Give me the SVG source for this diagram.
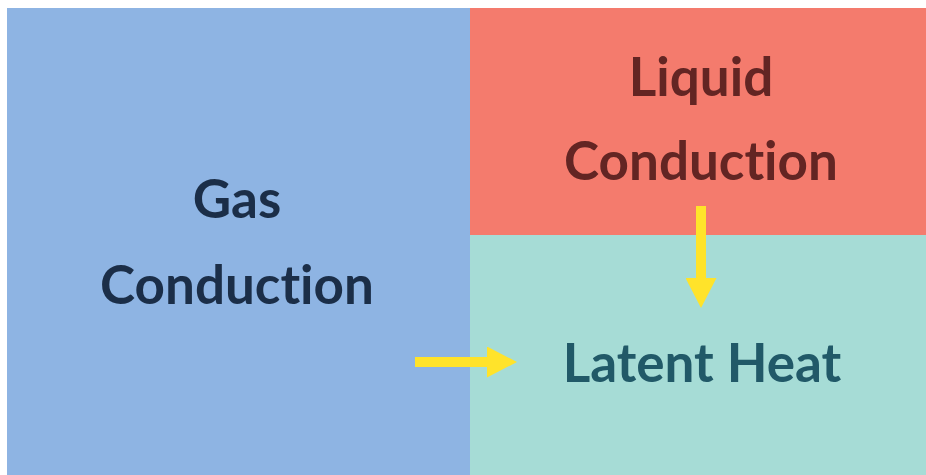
<svg xmlns="http://www.w3.org/2000/svg" width="926" height="475" viewBox="0 0 926 475">
<style>
.lbl{font-family:"Lato","Open Sans","Liberation Sans",sans-serif;font-weight:bold;font-size:53px;text-anchor:middle;font-variant-ligatures:none;font-feature-settings:"liga" 0,"clig" 0,"dlig" 0}
.arrow{stroke:#FFE32A;stroke-width:10;fill:none}
</style>
<defs>
<marker id="head" markerUnits="userSpaceOnUse" markerWidth="30" markerHeight="31" refX="0" refY="15.5" orient="auto">
<path d="M0,0 L30,15.5 L0,31 Z" fill="#FFE32A"/>
</marker>
</defs>
<rect x="0" y="0" width="926" height="475" fill="#ffffff"/>
<g id="gas">
<rect x="7" y="8" width="463" height="467" fill="#8EB4E3"/>
<text class="lbl" x="237" y="218" fill="#1B2E48">Gas</text>
<text class="lbl" x="237" y="304" fill="#1B2E48">Conduction</text>
</g>
<g id="liquid">
<rect x="470" y="8" width="456" height="227" fill="#F47B6D"/>
<text class="lbl" x="701" y="96" fill="#632523">Liquid</text>
<text class="lbl" x="701" y="180" fill="#632523">Conduction</text>
</g>
<g id="latent">
<rect x="470" y="235" width="456" height="240" fill="#A6DCD6"/>
<text class="lbl" x="702" y="382" fill="#215968">Latent Heat</text>
</g>
<g id="connectors">
<line class="arrow" x1="701" y1="206" x2="701" y2="278" marker-end="url(#head)"/>
<line class="arrow" x1="415" y1="362" x2="487" y2="362" marker-end="url(#head)"/>
</g>
</svg>
